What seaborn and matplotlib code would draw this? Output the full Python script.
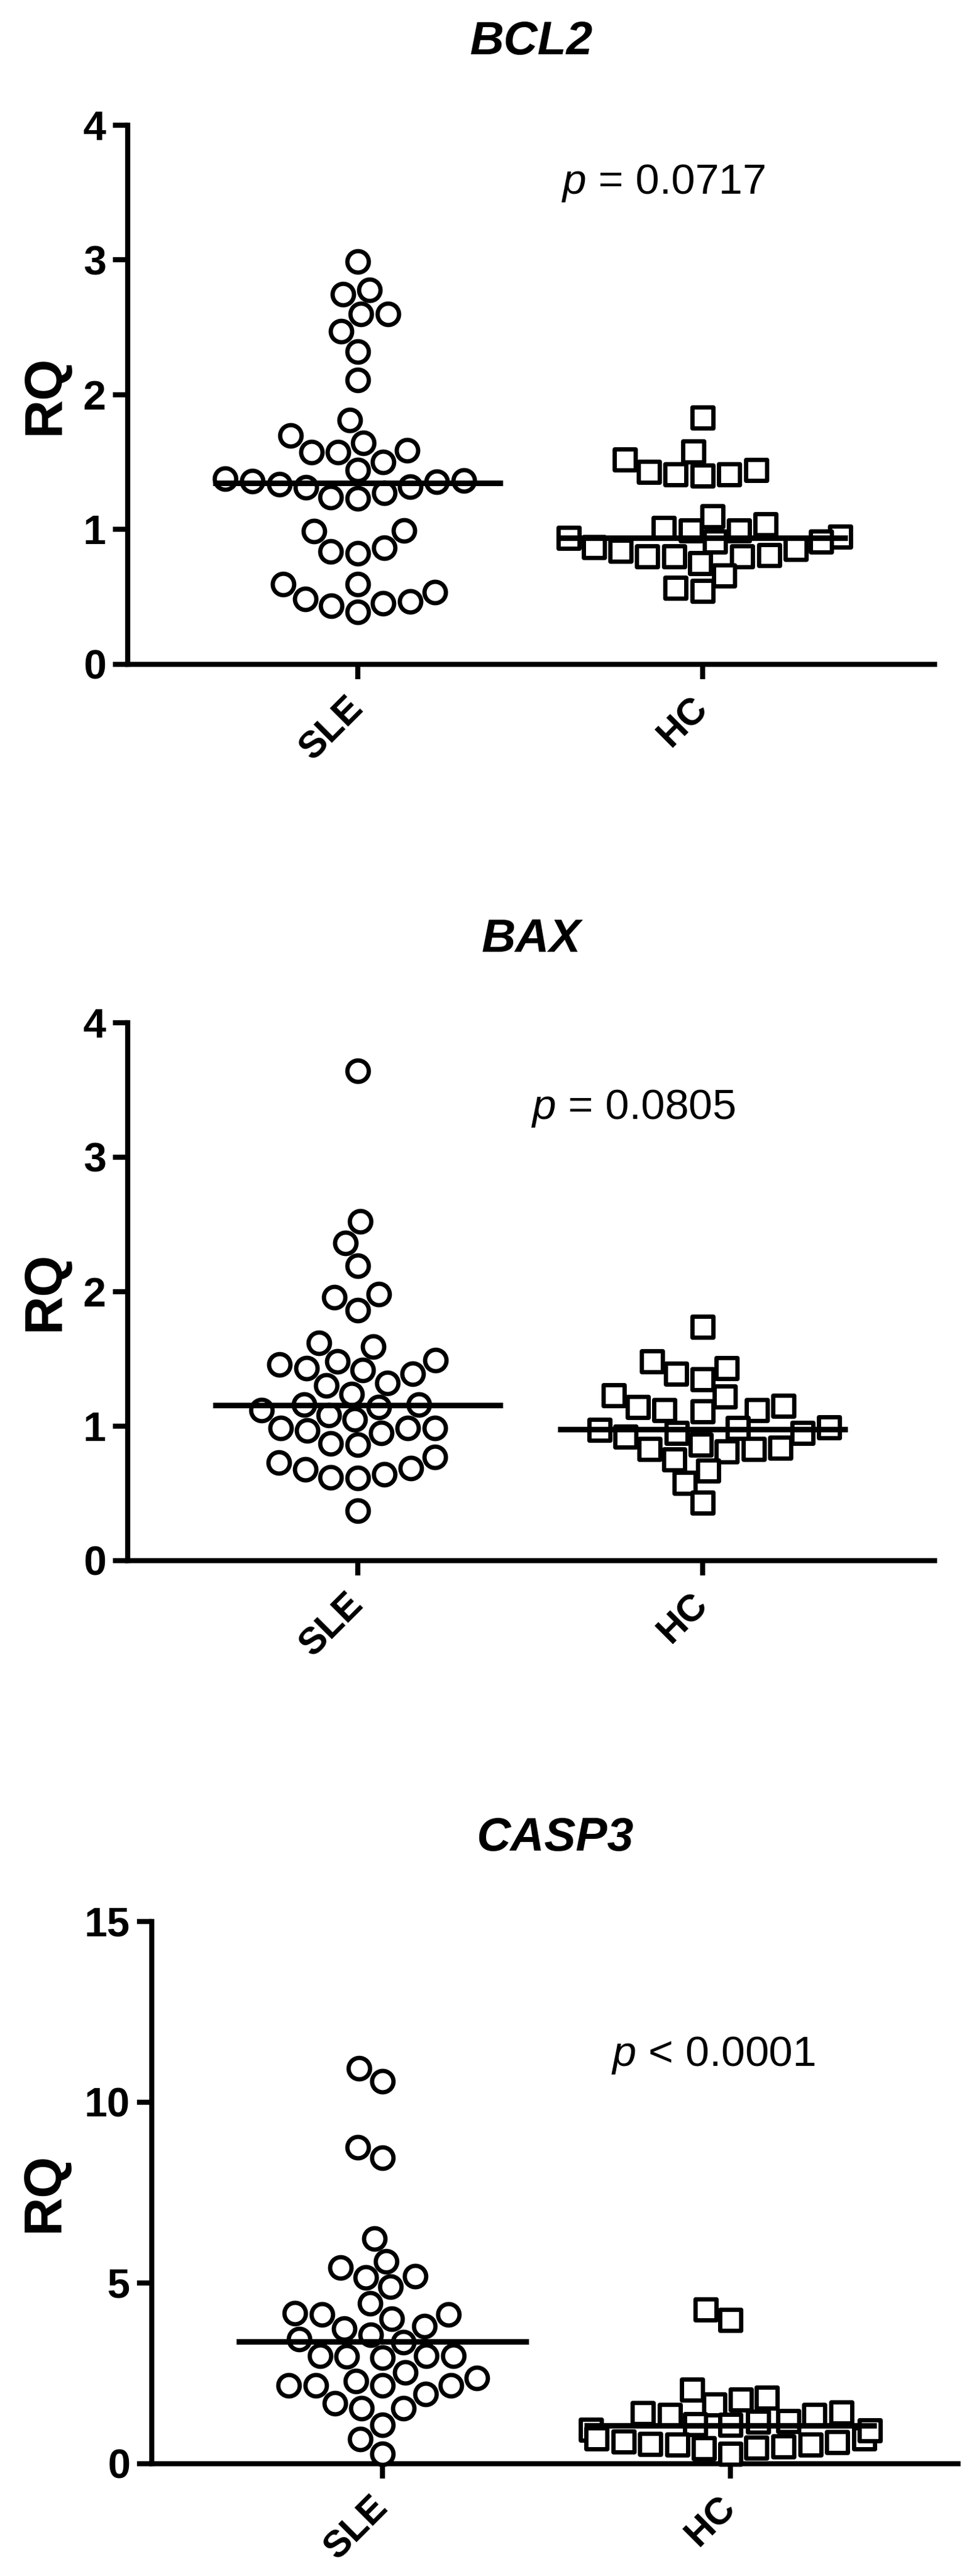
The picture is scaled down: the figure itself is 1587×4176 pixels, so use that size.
import numpy as np
import pandas as pd
import matplotlib
matplotlib.use("Agg")
import matplotlib.pyplot as plt
import seaborn as sns

# groups and genes
groups = ["SLE", "HC"]
genes = ["BCL2", "BAX", "CASP3"]

# RQ values
bcl2_sle = [2.99, 2.78, 2.745, 2.60, 2.60, 2.47, 2.32, 2.11,
            1.81, 1.70, 1.59, 1.576, 1.503, 1.576, 1.645,
            1.443, 1.36, 1.353, 1.32, 1.27, 1.232, 1.239, 1.315, 1.338, 1.365, 1.376,
            0.987, 0.994, 0.838, 0.826, 0.866,
            0.596, 0.487, 0.453, 0.389, 0.437, 0.467, 0.536, 0.596]
bcl2_hc = [1.83, 1.52, 1.43, 1.41, 1.40, 1.41, 1.44, 1.58,
           1.10, 1.04, 1.01, 0.994, 0.994, 0.948, 0.94, 0.91, 0.91, 0.87,
           0.856, 0.842, 0.80, 0.80, 0.80, 0.81, 0.75, 0.66, 0.545, 0.568]

bax_sle = [3.64, 2.52, 2.36, 2.19, 1.96, 1.98, 1.86,
           1.59, 1.62, 1.48, 1.43, 1.39, 1.415, 1.46, 1.49, 1.30, 1.32, 1.24,
           1.16, 1.14, 1.12, 1.16, 1.08, 1.05, 0.985, 0.985, 0.95, 0.965, 0.985,
           0.86, 0.87, 0.73, 0.77, 0.68, 0.62, 0.615, 0.64, 0.685, 0.37]
bax_hc = [1.74, 1.48, 1.39, 1.43, 1.35, 1.23, 1.22, 1.15, 1.12, 1.11, 1.12, 1.14,
          0.985, 0.95, 0.92, 0.95, 0.97, 0.99, 0.84, 0.83, 0.75, 0.81, 0.83, 0.86,
          0.67, 0.575, 0.43]

casp3_sle = [10.93, 10.57, 8.47, 8.76, 6.23, 5.59, 5.15, 5.42, 4.89, 5.18, 4.43,
             4.17, 4.12, 4.01, 4.12, 3.81, 3.73, 3.57, 3.44, 3.36,
             2.98, 2.96, 2.93, 2.98, 2.98, 2.53, 2.37, 2.29, 2.17, 2.16, 2.17, 2.17,
             1.92, 1.67, 1.53, 1.53, 1.08, 0.68, 0.27]
casp3_hc = [4.27, 3.98, 2.04, 1.83, 1.77, 1.42, 1.35, 1.35, 1.40, 1.64,
            1.18, 1.09, 0.94, 0.70, 0.62, 0.55, 0.53, 0.48, 0.27, 0.45, 0.42,
            0.53, 0.59, 0.70, 0.92, 1.07, 1.16]

# median lines
bcl2_median = [1.347, 0.94]
bax_median = [1.157, 0.976]
casp3_median = [3.38, 1.06]

p_labels = ["= 0.0717", "= 0.0805", "< 0.0001"]
y_ticks = [[0, 1, 2, 3, 4], [0, 1, 2, 3, 4], [0, 5, 10, 15]]

all_data = [(bcl2_sle, bcl2_hc, bcl2_median),
            (bax_sle, bax_hc, bax_median),
            (casp3_sle, casp3_hc, casp3_median)]

sns.set_theme(style="ticks")
plt.rcParams["font.family"] = ["Liberation Sans", "DejaVu Sans"]
plt.rcParams["mathtext.fontset"] = "custom"
plt.rcParams["mathtext.it"] = "Liberation Sans:italic"
plt.rcParams["mathtext.rm"] = "Liberation Sans"
plt.rcParams["text.color"] = "black"
plt.rcParams["axes.labelcolor"] = "black"

fig = plt.figure(figsize=(15.87, 41.76), dpi=100)

# layout of the three panels
boxes = [[0.1304, 0.7421, 0.8242, 0.2093],
         [0.1304, 0.3942, 0.8242, 0.2088],
         [0.155, 0.0436, 0.8236, 0.2105]]
xlims = [(-0.667, 1.673), (-0.667, 1.673), (-0.663, 1.654)]
p_pos = [(0.886, 3.57), (0.80, 3.36), (0.95, 11.3)]
label_x = [-0.072, -0.072, -0.102]

for i, gene in enumerate(genes):
    sle, hc, med = all_data[i]
    ax = fig.add_axes(boxes[i])
    ax.set_ylim(0, y_ticks[i][-1])

    df_sle = pd.DataFrame({"group": "SLE", "RQ": sle})
    df_hc = pd.DataFrame({"group": "HC", "RQ": hc})
    sns.swarmplot(data=df_sle, x="group", y="RQ", order=groups, marker="o",
                  size=25, color="white", edgecolor="black", linewidth=5, ax=ax)
    sns.swarmplot(data=df_hc, x="group", y="RQ", order=groups, marker="s",
                  size=25, color="white", edgecolor="black", linewidth=5, ax=ax)
    for c in ax.collections:
        c.set_clip_on(False)

    # median lines
    xs = np.arange(len(groups))
    ax.hlines(med, xs - 0.42, xs + 0.42, colors="black", linewidth=6.5, zorder=5)

    ax.set_xlim(*xlims[i])
    ax.set_ylim(0, y_ticks[i][-1])
    ax.set_yticks(y_ticks[i])
    ax.set_yticklabels([str(t) for t in y_ticks[i]], fontsize=48, fontweight="bold")
    ax.set_xticks(xs)
    ax.set_xticklabels(groups, rotation=45, ha="right", va="center",
                       rotation_mode="anchor", fontsize=44, fontweight="bold")

    sns.despine(ax=ax)
    for side in ["left", "bottom"]:
        ax.spines[side].set_linewidth(6)
        ax.spines[side].set_color("black")
    ax.tick_params(axis="both", direction="out", length=17, width=6,
                   color="black", labelcolor="black")
    ax.tick_params(axis="y", pad=8)
    ax.tick_params(axis="x", pad=28)

    ax.set_xlabel("")
    ax.set_ylabel("RQ", fontsize=62, fontweight="bold")
    ax.yaxis.set_label_coords(label_x[i], 0.5)
    ax.set_title(gene, fontsize=55, fontweight="bold", fontstyle="italic", pad=83)

    ax.text(p_pos[i][0], p_pos[i][1], r"$p$ " + p_labels[i], fontsize=50,
            ha="center", va="center")

fig.savefig("out.png", dpi=100)
